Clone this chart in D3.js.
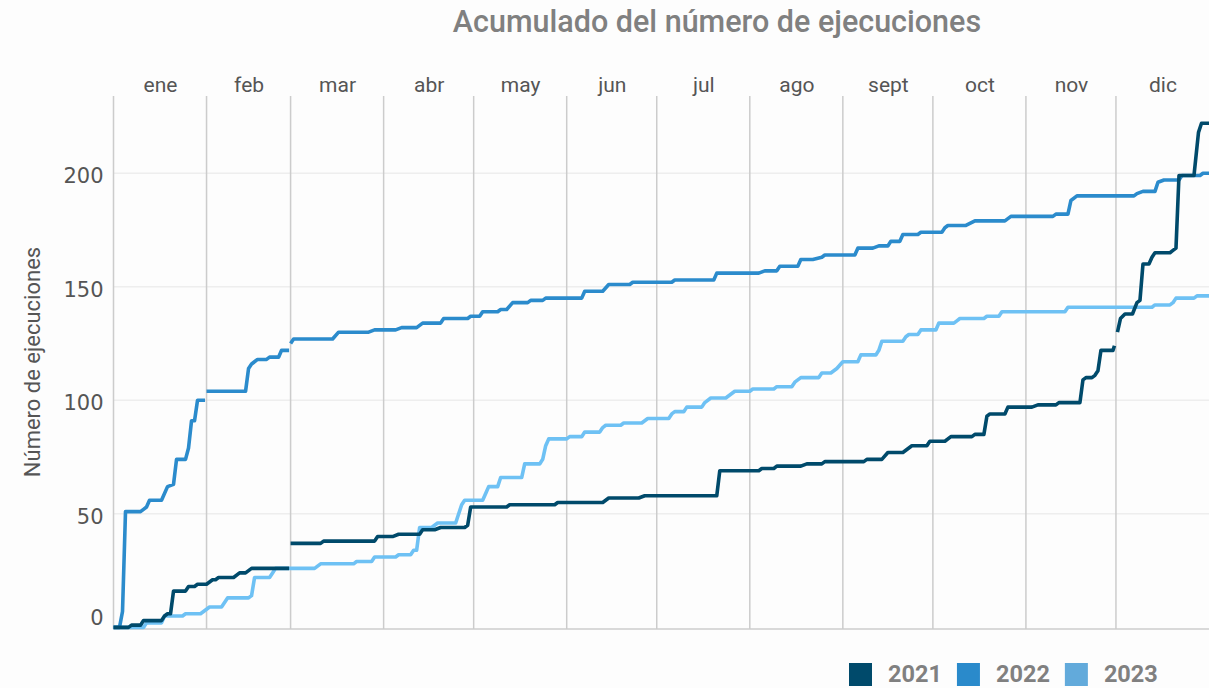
<!DOCTYPE html>
<html>
<head>
<meta charset="utf-8">
<script src="https://cdn.jsdelivr.net/npm/d3@7"></script>
<style>
  html, body { margin: 0; padding: 0; background: #fdfdfd; }
  svg { display: block; font-family: Roboto, "Liberation Sans", sans-serif; }
</style>
</head>
<body>
<svg id="chart" width="1209" height="688"></svg>
<script>
// Month labels and lengths (non-leap year)
const months = ["ene", "feb", "mar", "abr", "may", "jun", "jul", "ago", "sept", "oct", "nov", "dic"];
const monthDays = [31, 28, 31, 30, 31, 30, 31, 31, 30, 31, 30, 31];
const yTicks = [0, 50, 100, 150, 200];
const years = ["2021", "2022", "2023"];

// Cumulative executions: [day of year, running total]; null marks a break in the line
const serie2021 = [
  [0, 0], [5, 0], [6, 1], [9, 1], [10, 3], [16, 3], [17, 5], [18, 6], [19, 6], [20, 16], [24, 16],
  [25, 18], [27, 18], [28, 19], [31, 19], [33, 21], [34, 21], [35, 22], [40, 22], [42, 24], [44, 24],
  [45, 25], [46, 26], [58.5, 26], [58.7, null],
  [59, 37], [69, 37], [70, 38], [87, 38], [88, 40], [93, 40], [95, 41], [102, 41], [103, 43], [107, 43],
  [109, 44], [117, 44], [118, 45], [119, 53], [131, 53], [132, 54], [147, 54], [148, 55], [163, 55],
  [165, 57], [175, 57], [177, 58], [201, 58], [202, 69], [215, 69], [216, 70], [220, 70], [221, 71],
  [229, 71], [231, 72], [236, 72], [237, 73], [250, 73], [251, 74], [256, 74], [258, 77], [263, 77],
  [264, 78], [266, 80], [271, 80], [272, 82], [277, 82], [279, 84], [286, 84], [287, 85], [290, 85],
  [291, 93], [292, 94], [297, 94], [298, 97], [306, 97], [308, 98], [314, 98], [315, 99], [322, 99],
  [323, 109], [324, 110], [326, 110], [327, 111], [328, 113], [329, 122], [333, 122], [333.5, 124],
  [334, null],
  [334.5, 130], [335.5, 136], [337, 138], [339.5, 138], [341, 143], [342, 144], [343, 160], [345, 160],
  [346, 163], [347, 165], [352, 165], [353, 166], [354, 167], [355, 199], [360, 199], [361.5, 218],
  [362.5, 222], [365, 222]
];

const serie2022 = [
  [0, 0], [2, 0], [3, 7], [4, 51], [9, 51], [10, 52], [11, 53], [12, 56], [16, 56], [18, 62], [20, 63],
  [21, 74], [24, 74], [25, 79], [26, 91], [27, 91], [28, 100], [30.5, 100], [30.8, null],
  [31, 104], [44, 104], [45, 114], [46, 116], [48, 118], [51, 118], [52, 119], [55, 119], [56, 122],
  [58.5, 122], [58.7, null],
  [59, 125], [60, 127], [73, 127], [75, 130], [85, 130], [87, 131], [94, 131], [96, 132], [101, 132],
  [103, 134], [109, 134], [110, 136], [118, 136], [119, 137], [122, 137], [123, 139], [128, 139],
  [129, 140], [131, 140], [133, 143], [138, 143], [139, 144], [143, 144], [144, 145], [156, 145],
  [157, 148], [163, 148], [165, 151], [172, 151], [173, 152], [186, 152], [187, 153], [200, 153],
  [201, 156], [215, 156], [217, 157], [221, 157], [222, 159], [228, 159], [229, 162], [233, 162],
  [236, 163], [237, 164], [247, 164], [248, 167], [253, 167], [255, 168], [258, 168], [259, 170],
  [262, 170], [263, 173], [268, 173], [269, 174], [276, 174], [277, 176], [278, 177], [284, 177],
  [287, 179], [297, 179], [299, 181], [313, 181], [314, 182], [318, 182], [319, 188], [321, 190],
  [340, 190], [341, 191], [343, 192], [347, 192], [348, 196], [350, 197], [355, 197], [356, 199],
  [362, 199], [363, 200], [365, 200]
];

const serie2023 = [
  [0, 0], [10, 0], [11, 2], [16, 2], [17, 5], [23, 5], [24, 6], [29, 6], [30, 7], [31, 8], [32, 9],
  [36, 9], [37, 11], [38, 13], [45, 13], [46, 14], [47, 22], [52, 22], [53, 24], [54, 26], [67, 26],
  [68, 27], [69, 28], [80, 28], [81, 29], [86, 29], [87, 31], [94, 31], [95, 32], [99, 32], [100, 34],
  [101, 34], [102, 44], [106, 44], [107, 45], [108, 46], [114, 46], [116, 54], [117, 56], [123, 56],
  [124, 59], [125, 62], [128, 62], [129, 66], [136, 66], [137, 72], [142, 72], [143, 74], [144, 80],
  [145, 83], [151, 83], [152, 84], [156, 84], [157, 86], [162, 86], [163, 88], [164, 89], [169, 89],
  [170, 90], [176, 90], [177, 91], [178, 92], [185, 92], [186, 94], [187, 95], [190, 95], [191, 97],
  [196, 97], [197, 99], [199, 101], [204, 101], [206, 103], [207, 104], [212, 104], [213, 105],
  [220, 105], [221, 106], [226, 106], [227, 108], [229, 110], [235, 110], [236, 112], [239, 112],
  [240, 113], [241, 114], [243, 117], [248, 117], [249, 120], [254, 120], [255, 122], [256, 126],
  [263, 126], [264, 128], [265, 129], [268, 129], [269, 131], [274, 131], [275, 134], [280, 134],
  [281, 135], [282, 136], [290, 136], [291, 137], [295, 137], [296, 139], [317, 139], [318, 141],
  [346, 141], [347, 142], [352, 142], [353, 143], [354, 145], [360, 145], [361, 146], [365, 146]
];

const lineColors = ["#004a6b", "#2b8bcc", "#6ec1f4"];
const swatchColors = ["#004a6b", "#2a8acb", "#62aadb"];
const seriesList = [serie2021, serie2022, serie2023];

const svg = d3.select("#chart");
const W = 1209, H = 688;
const plot = { left: 113.5, right: 1209, top: 96, bottom: 629 };

svg.append("rect").attr("width", W).attr("height", H).attr("fill", "#fdfdfd");

const x = d3.scaleLinear().domain([0, 365]).range([plot.left, plot.right]);
const y = d3.scaleLinear().domain([-0.7, 234]).range([plot.bottom, plot.top]);

const monthStarts = [0, ...d3.cumsum(monthDays)].slice(0, 12);
const monthCenters = monthStarts.map((s, i) => s + monthDays[i] / 2);

// horizontal gridlines
svg.append("g")
  .selectAll("line")
  .data(yTicks.filter(v => v > 0))
  .join("line")
  .attr("x1", plot.left).attr("x2", plot.right)
  .attr("y1", d => y(d)).attr("y2", d => y(d))
  .attr("stroke", "#eeeeee").attr("stroke-width", 1.5);

// month separators
svg.append("g")
  .selectAll("line")
  .data(monthStarts)
  .join("line")
  .attr("x1", d => x(d)).attr("x2", d => x(d))
  .attr("y1", plot.top).attr("y2", plot.bottom)
  .attr("stroke", "#cccccc").attr("stroke-width", 1.5);

// baseline
svg.append("line")
  .attr("x1", plot.left).attr("x2", plot.right)
  .attr("y1", plot.bottom).attr("y2", plot.bottom)
  .attr("stroke", "#cccccc").attr("stroke-width", 1.5);

// series lines (latest year underneath)
const line = d3.line()
  .defined(d => d[1] != null)
  .x(d => x(d[0]))
  .y(d => y(d[1]));

const order = [2, 1, 0];
svg.append("g")
  .selectAll("path")
  .data(order)
  .join("path")
  .attr("d", i => line(seriesList[i]))
  .attr("fill", "none")
  .attr("stroke", i => lineColors[i])
  .attr("stroke-width", 3.6)
  .attr("stroke-linejoin", "round")
  .attr("stroke-linecap", "butt");

// month labels along the top
const monthAxis = d3.axisTop(x)
  .tickValues(monthCenters)
  .tickFormat((d, i) => months[i])
  .tickSize(0)
  .tickPadding(4);
const gm = svg.append("g").attr("transform", `translate(0,${plot.top})`).call(monthAxis);
gm.select(".domain").remove();
gm.selectAll("text")
  .attr("font-family", "Roboto, sans-serif")
  .attr("font-size", 21)
  .attr("fill", "#555555");

// y axis labels
const yAxis = d3.axisLeft(y)
  .tickValues(yTicks)
  .tickSize(0)
  .tickPadding(10);
const gy = svg.append("g").attr("transform", `translate(${plot.left},0)`).call(yAxis);
gy.select(".domain").remove();
gy.selectAll("text")
  .attr("font-family", "'DejaVu Sans', sans-serif")
  .attr("font-size", 21)
  .attr("fill", "#555555")
  .attr("dy", d => d === 0 ? "-0.15em" : "0.45em");

// y axis title
svg.append("text")
  .attr("transform", `translate(40,${(plot.top + plot.bottom) / 2 - 0.5}) rotate(-90)`)
  .attr("text-anchor", "middle")
  .attr("font-size", 22)
  .attr("fill", "#555555")
  .text("Número de ejecuciones");

// title
svg.append("text")
  .attr("x", 717)
  .attr("y", 32)
  .attr("text-anchor", "middle")
  .attr("font-size", 30.5)
  .attr("font-weight", 500)
  .attr("fill", "#808080")
  .text("Acumulado del número de ejecuciones");

// legend
const legend = svg.append("g");
let lx = 849;
years.forEach((yr, i) => {
  legend.append("rect")
    .attr("x", lx).attr("y", 663)
    .attr("width", 23).attr("height", 23)
    .attr("fill", swatchColors[i]);
  const t = legend.append("text")
    .attr("x", lx + 39).attr("y", 682)
    .attr("font-size", 23.5)
    .attr("font-weight", 700)
    .attr("fill", "#808080")
    .text(yr);
  lx += 39 + t.node().getComputedTextLength() + 15;
});
</script>
</body>
</html>
